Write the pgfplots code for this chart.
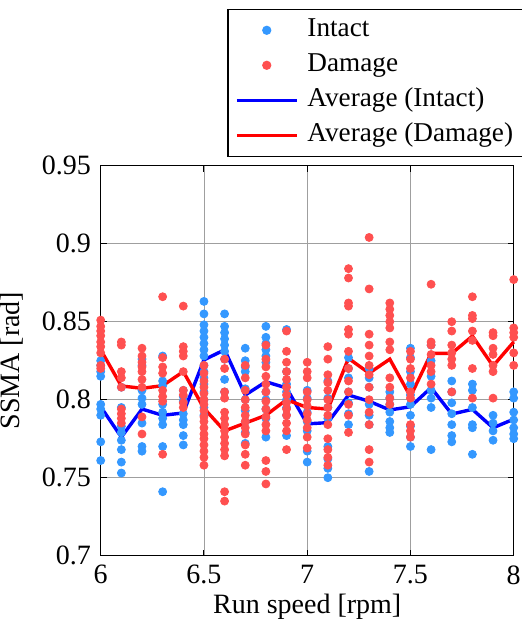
\documentclass[border=0pt]{standalone}
\usepackage{pgfplots}
\pgfplotsset{compat=1.18}
\usepackage{pgfplotstable}
\usepackage{fontspec}
\setmainfont{Liberation Serif}
\usetikzlibrary{calc}
\definecolor{intact}{RGB}{52,152,255}
\definecolor{damage}{RGB}{255,80,80}
\pgfplotsset{
  legmark/.style={legend image code/.code={\draw[##1] plot coordinates {(15pt,0pt)}; \path (0pt,0pt) (30pt,0pt);}},
  legline/.style={legend image code/.code={\draw[##1] (0pt,0pt) -- (30pt,0pt);}},
}

\pgfplotstableread{
x y
6.0 0.825
6.0 0.822
6.0 0.818
6.0 0.815
6.0 0.797
6.0 0.794
6.0 0.790
6.0 0.773
6.0 0.761
6.1 0.808
6.1 0.795
6.1 0.783
6.1 0.779
6.1 0.774
6.1 0.768
6.1 0.760
6.1 0.753
6.2 0.826
6.2 0.822
6.2 0.806
6.2 0.801
6.2 0.797
6.2 0.785
6.2 0.770
6.2 0.767
6.3 0.828
6.3 0.812
6.3 0.809
6.3 0.797
6.3 0.792
6.3 0.788
6.3 0.784
6.3 0.770
6.3 0.741
6.4 0.806
6.4 0.802
6.4 0.799
6.4 0.791
6.4 0.787
6.4 0.784
6.4 0.777
6.4 0.771
6.5 0.863
6.5 0.855
6.5 0.848
6.5 0.844
6.5 0.840
6.5 0.836
6.5 0.832
6.5 0.828
6.5 0.822
6.5 0.818
6.5 0.814
6.5 0.810
6.5 0.805
6.5 0.800
6.5 0.795
6.5 0.790
6.6 0.855
6.6 0.847
6.6 0.843
6.6 0.839
6.6 0.835
6.6 0.831
6.6 0.826
6.6 0.813
6.6 0.805
6.7 0.833
6.7 0.825
6.7 0.821
6.7 0.818
6.7 0.807
6.7 0.800
6.7 0.793
6.7 0.786
6.7 0.779
6.7 0.772
6.8 0.847
6.8 0.840
6.8 0.836
6.8 0.832
6.8 0.828
6.8 0.824
6.8 0.805
6.8 0.800
6.8 0.794
6.8 0.788
6.8 0.776
6.9 0.845
6.9 0.818
6.9 0.810
6.9 0.805
6.9 0.800
6.9 0.795
6.9 0.790
6.9 0.777
7.0 0.806
7.0 0.801
7.0 0.792
7.0 0.786
7.0 0.780
7.0 0.767
7.0 0.760
7.1 0.812
7.1 0.801
7.1 0.795
7.1 0.788
7.1 0.770
7.1 0.762
7.1 0.756
7.1 0.750
7.2 0.827
7.2 0.820
7.2 0.814
7.2 0.805
7.2 0.798
7.2 0.791
7.2 0.784
7.3 0.820
7.3 0.814
7.3 0.808
7.3 0.797
7.3 0.790
7.3 0.784
7.3 0.754
7.4 0.805
7.4 0.801
7.4 0.797
7.4 0.792
7.4 0.786
7.4 0.782
7.4 0.779
7.5 0.833
7.5 0.827
7.5 0.818
7.5 0.810
7.5 0.803
7.5 0.797
7.5 0.790
7.5 0.783
7.5 0.776
7.5 0.770
7.6 0.835
7.6 0.825
7.6 0.815
7.6 0.806
7.6 0.801
7.6 0.795
7.6 0.768
7.7 0.812
7.7 0.805
7.7 0.798
7.7 0.791
7.7 0.784
7.7 0.777
7.7 0.773
7.8 0.810
7.8 0.806
7.8 0.795
7.8 0.784
7.8 0.782
7.8 0.765
7.9 0.790
7.9 0.785
7.9 0.780
7.9 0.774
8.0 0.805
8.0 0.801
8.0 0.792
8.0 0.787
8.0 0.782
8.0 0.778
8.0 0.775
}\intact

\pgfplotstableread{
x y
6.0 0.851
6.0 0.847
6.0 0.844
6.0 0.841
6.0 0.837
6.0 0.834
6.0 0.830
6.0 0.822
6.0 0.820
6.1 0.837
6.1 0.835
6.1 0.818
6.1 0.814
6.1 0.808
6.1 0.794
6.1 0.791
6.1 0.788
6.1 0.785
6.2 0.833
6.2 0.828
6.2 0.824
6.2 0.821
6.2 0.818
6.2 0.813
6.2 0.808
6.2 0.789
6.2 0.778
6.3 0.866
6.3 0.827
6.3 0.821
6.3 0.817
6.3 0.806
6.3 0.802
6.3 0.799
6.3 0.765
6.4 0.860
6.4 0.834
6.4 0.831
6.4 0.828
6.4 0.818
6.4 0.806
6.4 0.803
6.4 0.798
6.4 0.795
6.5 0.822
6.5 0.817
6.5 0.812
6.5 0.808
6.5 0.804
6.5 0.800
6.5 0.797
6.5 0.793
6.5 0.789
6.5 0.786
6.5 0.782
6.5 0.778
6.5 0.775
6.5 0.771
6.5 0.767
6.5 0.763
6.5 0.758
6.6 0.826
6.6 0.820
6.6 0.805
6.6 0.801
6.6 0.792
6.6 0.788
6.6 0.784
6.6 0.780
6.6 0.776
6.6 0.772
6.6 0.768
6.6 0.764
6.6 0.741
6.6 0.735
6.7 0.822
6.7 0.814
6.7 0.806
6.7 0.800
6.7 0.795
6.7 0.790
6.7 0.786
6.7 0.782
6.7 0.778
6.7 0.771
6.7 0.765
6.7 0.758
6.8 0.835
6.8 0.826
6.8 0.821
6.8 0.815
6.8 0.810
6.8 0.805
6.8 0.799
6.8 0.794
6.8 0.789
6.8 0.784
6.8 0.780
6.8 0.761
6.8 0.754
6.8 0.746
6.9 0.844
6.9 0.831
6.9 0.824
6.9 0.818
6.9 0.813
6.9 0.808
6.9 0.803
6.9 0.798
6.9 0.794
6.9 0.790
6.9 0.785
6.9 0.780
6.9 0.768
7.0 0.824
7.0 0.818
7.0 0.814
7.0 0.805
7.0 0.800
7.0 0.796
7.0 0.791
7.0 0.787
7.0 0.782
7.0 0.776
7.0 0.769
7.1 0.834
7.1 0.826
7.1 0.816
7.1 0.811
7.1 0.806
7.1 0.800
7.1 0.795
7.1 0.790
7.1 0.784
7.1 0.775
7.1 0.768
7.1 0.763
7.1 0.758
7.2 0.884
7.2 0.878
7.2 0.862
7.2 0.860
7.2 0.845
7.2 0.842
7.2 0.831
7.2 0.820
7.2 0.812
7.2 0.805
7.2 0.797
7.2 0.790
7.2 0.779
7.3 0.904
7.3 0.871
7.3 0.842
7.3 0.835
7.3 0.828
7.3 0.822
7.3 0.816
7.3 0.808
7.3 0.800
7.3 0.792
7.3 0.784
7.3 0.768
7.3 0.760
7.4 0.862
7.4 0.858
7.4 0.854
7.4 0.850
7.4 0.846
7.4 0.837
7.4 0.832
7.4 0.814
7.4 0.808
7.4 0.801
7.4 0.797
7.5 0.831
7.5 0.826
7.5 0.820
7.5 0.814
7.5 0.805
7.5 0.801
7.5 0.784
7.5 0.780
7.5 0.776
7.6 0.874
7.6 0.837
7.6 0.835
7.6 0.829
7.6 0.822
7.6 0.818
7.6 0.810
7.7 0.850
7.7 0.844
7.7 0.835
7.7 0.830
7.7 0.826
7.7 0.822
7.7 0.805
7.8 0.866
7.8 0.854
7.8 0.852
7.8 0.844
7.8 0.838
7.8 0.820
7.8 0.801
7.9 0.843
7.9 0.841
7.9 0.833
7.9 0.829
7.9 0.822
7.9 0.818
7.9 0.801
8.0 0.877
8.0 0.846
8.0 0.843
8.0 0.840
8.0 0.830
8.0 0.822
}\damage

\pgfplotstableread{
x yi yd
6.0 0.7955 0.832
6.1 0.776 0.8088
6.2 0.794 0.8073
6.3 0.790 0.809
6.4 0.7915 0.818
6.5 0.8255 0.7945
6.6 0.832 0.780
6.7 0.803 0.785
6.8 0.8115 0.790
6.9 0.8075 0.800
7.0 0.7845 0.795
7.1 0.7853 0.794
7.2 0.803 0.8265
7.3 0.799 0.817
7.4 0.7934 0.826
7.5 0.7955 0.802
7.6 0.8077 0.8297
7.7 0.7908 0.8297
7.8 0.7938 0.8408
7.9 0.782 0.8216
8.0 0.7875 0.837
}\avg

\begin{document}
\fontsize{14}{16}\selectfont
\begin{tikzpicture}
\begin{axis}[
  name=ax,
  width=206.5pt, height=195pt,
  scale only axis,
  xmin=6, xmax=8, ymin=0.7, ymax=0.95,
  xtick={6,6.5,7,7.5,8},
  ytick={0.7,0.75,0.8,0.85,0.9,0.95},
  /pgf/number format/assume math mode=true,
  tick label style={font=\fontsize{14}{16}\selectfont},
  label style={font=\fontsize{14}{16}\selectfont},
  xlabel={Run speed [rpm]},
  ylabel={SSMA [rad]},
  grid=major,
  major grid style={gray!75, line width=0.4pt},
  axis line style={black, line width=0.6pt},
  tick style={black, line width=0.5pt},
  major tick length=3pt,
  clip=false,
  xlabel style={yshift=4.5pt},
  ylabel style={yshift=0pt},
  legend cell align=left,
  legend style={
    at={(1,1)}, anchor=south east, xshift=5pt, yshift=4.4pt,
    draw=black, line width=0.6pt, fill=white,
    inner xsep=3.5pt, inner ysep=1.75pt,
    font=\fontsize{13.6}{15}\selectfont,
    nodes={text height=9.5pt, text depth=3pt, inner ysep=2.5pt, inner xsep=1.5pt},
    row sep=0pt,
    /tikz/every odd column/.append style={column sep=3pt},
  },
]
\addplot[only marks, mark=*, mark size=2pt, color=intact, mark options={draw=intact, fill=intact}, legmark]
  table[x=x, y=y] {\intact};
\addlegendentry{Intact}
\addplot[only marks, mark=*, mark size=2pt, color=damage, mark options={draw=damage, fill=damage}, legmark]
  table[x=x, y=y] {\damage};
\addlegendentry{Damage}
\addplot[blue, line width=1.7pt, no marks, legline]
  table[x=x, y=yi] {\avg};
\addlegendentry{Average (Intact)}
\addplot[red, line width=1.7pt, no marks, legline]
  table[x=x, y=yd] {\avg};
\addlegendentry{Average (Damage)}
\end{axis}
\pgfresetboundingbox
\useasboundingbox ($(ax.south west)+(-50.35pt,-34.65pt)$) rectangle ($(ax.north east)+(4pt,82.85pt)$);
\end{tikzpicture}
\end{document}
